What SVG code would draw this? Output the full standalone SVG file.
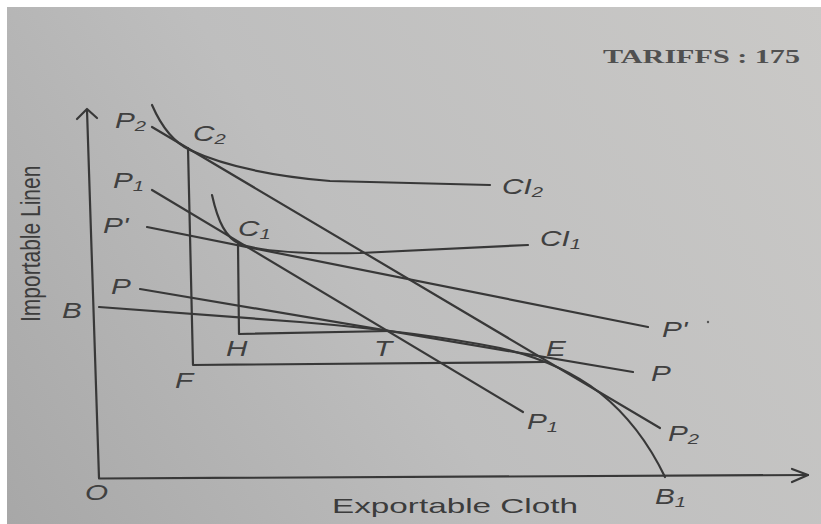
<svg xmlns="http://www.w3.org/2000/svg" width="821" height="524" viewBox="0 0 821 524">
<defs>
<linearGradient id="bg" gradientUnits="userSpaceOnUse" x1="0" y1="524" x2="821" y2="0">
<stop offset="0" stop-color="#a7a7a7"/>
<stop offset="0.45" stop-color="#bebebe"/>
<stop offset="1" stop-color="#cac9c7"/>
</linearGradient>
<style>
.ln{fill:none;stroke:#383838;stroke-width:2.2;stroke-linecap:round;stroke-linejoin:round}
.lbl{font-family:"Liberation Sans",Arial,sans-serif;font-style:italic;font-size:22px;fill:#404040}
.sub{font-size:15px}
.ax{font-family:"Liberation Sans",Arial,sans-serif;font-size:21px;fill:#3c3c3c}
.hd{font-family:"Liberation Serif","Times New Roman",serif;font-weight:bold;font-size:19px;fill:#505050}
</style>
</defs>
<rect width="821" height="524" fill="#ffffff"/>
<rect x="7" y="7" width="814" height="517" fill="url(#bg)"/>

<text class="hd" x="603" y="63" textLength="197" lengthAdjust="spacingAndGlyphs">TARIFFS : 175</text>

<g id="axes">
<path class="ln" d="M99 478 L87 110"/>
<path class="ln" d="M77 119 L87 109 L97 118"/>
<path class="ln" d="M99 478.5 L808 475"/>
<path class="ln" d="M792 469 L808 475 L792 482"/>
<text class="ax" transform="translate(40,322) scale(1.3,1) rotate(-90)">Importable Linen</text>
<text class="ax" x="332" y="513" textLength="246" lengthAdjust="spacingAndGlyphs">Exportable Cloth</text>
</g>

<g id="connectors">
<!-- production frontier B T E B1 -->
<path class="ln" d="M99 307 L300 322 Q420 332 500 348 Q560 362 600 393 Q640 425 665 477"/>
<!-- price lines -->
<path class="ln" d="M140 289 L633 372"/>
<path class="ln" d="M147 227 L648 327"/>
<path class="ln" d="M152 190 L523 412"/>
<path class="ln" d="M152 127 L660 428"/>
<!-- indifference curves -->
<path class="ln" d="M152 105 C162 128 175 143 190 150 C220 164 260 175 330 181 L490 185"/>
<path class="ln" d="M212 195 C218 222 226 238 240 244 C262 252 310 254 360 253 L528 245"/>
<!-- trade triangles -->
<path class="ln" d="M188 148 L193 365 L545 362"/>
<path class="ln" d="M238 244 L239 334 L390 331"/>
</g>

<g id="labels">
<text class="lbl" transform="translate(115,128) scale(1.35,1)">P<tspan class="sub" dy="3">2</tspan></text>
<text class="lbl" transform="translate(193,141) scale(1.35,1)">C<tspan class="sub" dy="3">2</tspan></text>
<text class="lbl" transform="translate(113,188) scale(1.35,1)">P<tspan class="sub" dy="3">1</tspan></text>
<text class="lbl" transform="translate(103,233) scale(1.35,1)">P'</text>
<text class="lbl" transform="translate(238,236) scale(1.35,1)">C<tspan class="sub" dy="3">1</tspan></text>
<text class="lbl" transform="translate(111,294) scale(1.35,1)">P</text>
<text class="lbl" transform="translate(62,318) scale(1.35,1)">B</text>
<text class="lbl" transform="translate(226,356) scale(1.35,1)">H</text>
<text class="lbl" transform="translate(374,356) scale(1.35,1)">T</text>
<text class="lbl" transform="translate(175,388) scale(1.35,1)">F</text>
<text class="lbl" transform="translate(85,500) scale(1.35,1)">O</text>
<text class="lbl" transform="translate(502,194) scale(1.35,1)">CI<tspan class="sub" dy="3">2</tspan></text>
<text class="lbl" transform="translate(540,246) scale(1.35,1)">CI<tspan class="sub" dy="3">1</tspan></text>
<text class="lbl" transform="translate(662,337) scale(1.35,1)">P'</text>
<circle cx="708" cy="322" r="1.2" fill="#555"/>
<text class="lbl" transform="translate(546,356) scale(1.35,1)">E</text>
<text class="lbl" transform="translate(651,381) scale(1.35,1)">P</text>
<text class="lbl" transform="translate(527,429) scale(1.35,1)">P<tspan class="sub" dy="3">1</tspan></text>
<text class="lbl" transform="translate(668,441) scale(1.35,1)">P<tspan class="sub" dy="3">2</tspan></text>
<text class="lbl" transform="translate(655,504) scale(1.35,1)">B<tspan class="sub" dy="3">1</tspan></text>
</g>
</svg>
